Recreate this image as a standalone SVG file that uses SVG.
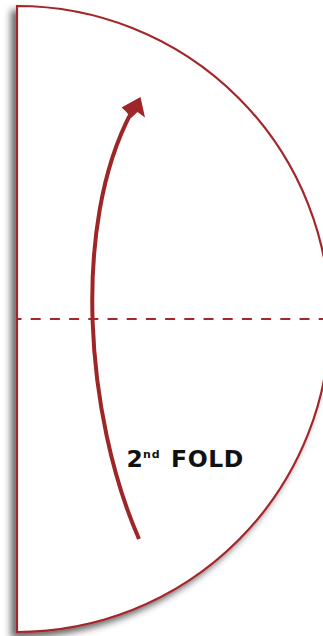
<svg xmlns="http://www.w3.org/2000/svg" width="323" height="636" viewBox="0 0 323 636">
  <defs>
    <filter id="shadow" x="-20%" y="-10%" width="140%" height="120%">
      <feDropShadow dx="-5" dy="5" stdDeviation="3.5" flood-color="#000" flood-opacity="0.6"/>
    </filter>
  </defs>
  <style>
    .outline { fill: #ffffff; stroke: #a3282b; stroke-width: 2.2; }
    .fold { fill: none; stroke: #a3282b; stroke-width: 2; stroke-dasharray: 10 9.2; stroke-dashoffset: 5.5; }
    .arrow { fill: none; stroke: #9e2628; stroke-width: 4; stroke-linecap: butt; }
    .head { fill: #9e2628; }
    .label { font-family: "DejaVu Sans", "Liberation Sans", sans-serif; font-weight: bold; fill: #111111; }
  </style>
  <g id="paper">
    <path class="outline" filter="url(#shadow)" d="M17,6 A313,313 0 0 1 17,632 Z"/>
  </g>
  <g id="connectors">
    <line class="fold" x1="17" y1="319" x2="323" y2="319"/>
    <path class="arrow" d="M139,539 C85,415 72,225 131,113"/>
    <polygon class="head" points="140.5,97 145,117.5 137.5,112 131,118 126,111.5 121.5,107.5"/>
  </g>
  <g id="label">
    <text class="label" x="126.5" y="467" font-size="23.5">2</text>
    <text class="label" x="143" y="457.5" font-size="11" letter-spacing="0.8">nd</text>
    <text class="label" x="171" y="467" font-size="23.5" letter-spacing="0.6">FOLD</text>
  </g>
</svg>
